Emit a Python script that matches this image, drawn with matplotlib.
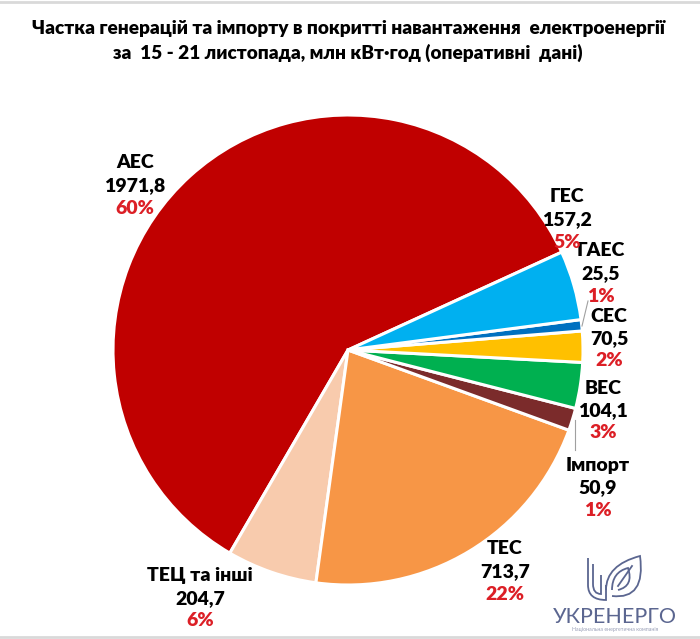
import numpy as np
import matplotlib
matplotlib.use("Agg")
import matplotlib.pyplot as plt
from matplotlib.path import Path
from matplotlib.patches import PathPatch

plt.rcParams["font.family"] = ["Lato", "DejaVu Sans"]

# data, counterclockwise from the upper right
labels = ["АЕС", "ТЕЦ та інші", "ТЕС", "Імпорт", "ВЕС", "СЕС", "ГАЕС", "ГЕС"]
values = [1971.8, 204.7, 713.7, 50.9, 104.1, 70.5, 25.5, 157.2]
percents = ["60%", "6%", "22%", "1%", "3%", "2%", "1%", "5%"]
colors = ["#C00000", "#F8CBAD", "#F79646", "#7B2B2B", "#00B050", "#FFC000", "#0070C0", "#00B0F0"]

title = ("Частка генерацій та імпорту в покритті навантаження  електроенергії\n"
         "за  15 - 21 листопада, млн кВт·год (оперативні  дані)")

W, H = 700, 639
fig = plt.figure(figsize=(W / 100, H / 100), dpi=100)
ax = fig.add_axes([0, 0, 1, 1])

cx, cy, r = 348, H - 350, 235
ax.pie(values, colors=colors, startangle=24.6, counterclock=True,
       center=(cx, cy), radius=r,
       wedgeprops=dict(edgecolor="white", linewidth=2.2))
ax.set_xlim(0, W)
ax.set_ylim(0, H)
ax.set_aspect("equal")
ax.axis("off")

# label anchor points (x, y of first line, from top)
label_pos = {
    "АЕС": (135, 163), "ТЕЦ та інші": (200, 576), "ТЕС": (505, 549),
    "Імпорт": (598, 465), "ВЕС": (603, 388), "СЕС": (609, 316),
    "ГАЕС": (601, 251), "ГЕС": (567, 197),
}
dy = 22.5
for lab, val, pct in zip(labels, values, percents):
    x, y = label_pos[lab]
    num = f"{val:.1f}".replace(".", ",")
    kw = dict(ha="center", va="center", fontsize=14, fontweight="heavy")
    ax.text(x, H - y, lab, color="black", **kw)
    ax.text(x, H - y - dy, num, color="black", **kw)
    ax.text(x, H - y - 2 * dy, pct, color="#DC1F26", **kw)

# leader lines
ax.plot([582, 588], [H - 326, H - 301], color="#A0A0A0", lw=0.8)
ax.plot([575, 575], [H - 420, H - 450], color="#A0A0A0", lw=0.8)

ax.text(348, H - 41, title, ha="center", va="center", fontsize=13.7,
        fontweight="heavy", linespacing=1.45)

# thin frame lines at top and bottom
ax.plot([0, W], [H - 1.5, H - 1.5], color="#D9D9D9", lw=2)
ax.plot([0, W], [2, 2], color="#D9D9D9", lw=2)

# logo
lc = "#5B6690"
verts = [(588, 558), (588, 585), (588, 600), (606, 600), (606, 585)]
codes = [Path.MOVETO, Path.LINETO, Path.CURVE3, Path.CURVE3, Path.LINETO]
ax.add_patch(PathPatch(Path([(x, H - y) for x, y in verts], codes), fill=False, edgecolor=lc, lw=1.3))
verts = [(593, 564), (593, 584), (593, 594), (601, 594), (601, 584), (601, 575)]
codes = [Path.MOVETO, Path.LINETO, Path.CURVE3, Path.CURVE3, Path.LINETO, Path.LINETO]
ax.add_patch(PathPatch(Path([(x, H - y) for x, y in verts], codes), fill=False, edgecolor=lc, lw=1.3))
verts = [(606, 590), (606, 565), (640, 556), (640, 556), (646, 600), (612, 596), (612, 596)]
codes = [Path.MOVETO, Path.CURVE3, Path.CURVE3, Path.LINETO, Path.CURVE3, Path.CURVE3, Path.LINETO]
ax.add_patch(PathPatch(Path([(x, H - y) for x, y in verts], codes), fill=False, edgecolor=lc, lw=1.3))
verts = [(612, 590), (612, 572), (628, 568), (634, 586), (618, 590)]
codes = [Path.MOVETO, Path.CURVE3, Path.CURVE3, Path.CURVE3, Path.CURVE3]
ax.add_patch(PathPatch(Path([(x, H - y) for x, y in verts], codes), fill=False, edgecolor=lc, lw=1.3))
ax.plot([618, 632], [H - 586, H - 566], color=lc, lw=1.3)
ax.text(615, H - 617, "УКРЕНЕРГО", ha="center", va="center", fontsize=15.5, color=lc)
ax.text(615, H - 629, "Національна енергетична компанія", ha="center", va="center", fontsize=3.8, color="#9AA0B8")

fig.savefig("out.png", dpi=100)
